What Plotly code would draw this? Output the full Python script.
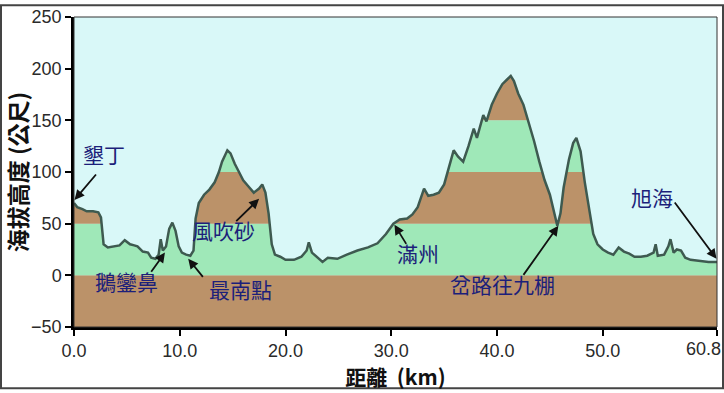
import numpy as np
import plotly.graph_objects as go

# ---- data ----
dist_km = [0.0, 0.3, 0.8, 1.2, 1.8, 2.3, 2.55, 2.8, 3.2, 3.8, 4.3, 4.8, 5.3, 5.7, 6.0, 6.5, 7.0, 7.3, 7.7,
           8.0, 8.2, 8.4, 8.7, 9.0, 9.3, 9.6, 9.9, 10.2, 10.6, 11.0, 11.3, 11.5, 11.8, 12.3, 12.8, 13.3,
           13.7, 14.0, 14.5, 14.8, 15.2, 15.6, 16.0, 16.5, 17.0, 17.5, 17.8, 18.1, 18.4, 18.7, 19.0, 19.5,
           20.0, 20.8, 21.5, 22.0, 22.2, 22.5, 23.0, 23.5, 24.0, 24.9, 25.8, 26.8, 27.8, 28.7, 29.5, 30.2,
           30.8, 31.5, 32.0, 32.5, 33.1, 33.5, 34.0, 34.5, 35.0, 35.5, 35.9, 36.3, 36.8, 37.3, 37.8, 38.1,
           38.7, 39.0, 39.5, 40.0, 40.5, 41.0, 41.3, 41.6, 42.0, 42.5, 43.0, 43.5, 44.0, 44.5, 45.0, 45.4,
           45.7, 46.0, 46.3, 46.8, 47.2, 47.5, 47.9, 48.3, 48.7, 49.1, 49.5, 50.0, 50.5, 51.0, 51.5, 52.0,
           52.5, 53.0, 53.6, 54.2, 54.8, 55.0, 55.2, 55.8, 56.2, 56.4, 56.7, 57.0, 57.4, 57.8, 58.3, 59.0,
           60.0, 60.8]
elev_m = [70, 66, 64, 62, 62, 61, 56, 30, 27, 28, 29, 34, 30, 29, 28, 23, 22, 17, 16,
          20, 35, 24, 28, 45, 51, 43, 28, 22, 20, 19, 24, 55, 70, 78, 83, 90,
          100, 110, 121, 118, 108, 100, 92, 86, 80, 84, 88, 80, 60, 30, 20, 18,
          15, 15, 18, 24, 32, 22, 17, 13, 17, 16, 20, 24, 27, 31, 40, 50,
          54, 55, 59, 66, 84, 77, 78, 80, 88, 105, 121, 115, 110, 125, 142, 133,
          155, 149, 165, 176, 185, 190, 193, 188, 176, 165, 148, 130, 110, 92, 78, 60,
          48, 60, 85, 112, 128, 133, 120, 90, 65, 40, 30, 25, 22, 20, 27, 23,
          21, 18, 18, 19, 22, 30, 19, 20, 28, 35, 22, 25, 24, 17, 15, 14,
          13, 13]

x_ticks = [0, 10, 20, 30, 40, 50, 60.8]
x_tick_labels = ["0.0", "10.0", "20.0", "30.0", "40.0", "50.0", "60.8"]
y_ticks = [-50, 0, 50, 100, 150, 200, 250]

band_edges = [-50, 0, 50, 100, 150, 200, 250]
BROWN = "#bb9269"
GREEN = "#9fe8b8"
band_colors = [BROWN, GREEN, BROWN, GREEN, BROWN, GREEN]

labels = [
    # text, text_x, text_y, tail_x, tail_y, head_x, head_y
    ("墾丁", 2.8, 117, 2.2, 99, 0.05, 73),
    ("鵝鑾鼻", 5.0, -5, 7.2, 2, 8.6, 22),
    ("最南點", 15.7, -13, 12.3, -3, 10.8, 16),
    ("風吹砂", 14.1, 44, 15.2, 51, 17.5, 74),
    ("滿州", 32.5, 22, 31.5, 29, 30.3, 49),
    ("岔路往九棚", 40.5, -8, 42.4, -1, 45.8, 48),
    ("旭海", 54.7, 76, 56.7, 72, 60.75, 16),
]

# ---- insert exact crossing points at band edges so fills match the line ----
xs, ys = [dist_km[0]], [elev_m[0]]
for i in range(1, len(dist_km)):
    x0, y0, x1, y1 = dist_km[i - 1], elev_m[i - 1], dist_km[i], elev_m[i]
    crossings = []
    for lv in band_edges:
        if (y0 - lv) * (y1 - lv) < 0:
            t = (lv - y0) / (y1 - y0)
            crossings.append((x0 + t * (x1 - x0), lv))
    crossings.sort(reverse=(x1 < x0))
    for cx, cy in crossings:
        xs.append(cx)
        ys.append(cy)
    xs.append(x1)
    ys.append(y1)
xs = np.array(xs)
ys = np.array(ys, dtype=float)

fig = go.Figure()
for k in range(len(band_edges) - 1):
    lo, hi = band_edges[k], band_edges[k + 1]
    fig.add_trace(go.Scatter(x=xs, y=np.full_like(ys, lo), mode="lines",
                             line=dict(width=0), hoverinfo="skip", showlegend=False))
    fig.add_trace(go.Scatter(x=xs, y=np.clip(ys, lo, hi), mode="lines", fill="tonexty",
                             fillcolor=band_colors[k], line=dict(width=0),
                             hoverinfo="skip", showlegend=False))

fig.add_trace(go.Scatter(x=dist_km, y=elev_m, mode="lines",
                         line=dict(color="#3e5a50", width=2.5), showlegend=False))

LABEL_FONT = dict(family="Noto Sans CJK TC", size=21, color="#1c1f7a")
for text, tx, ty, ax_, ay_, hx, hy in labels:
    fig.add_annotation(x=tx, y=ty, text=text, showarrow=False, font=LABEL_FONT)
    fig.add_annotation(x=hx, y=hy, ax=ax_, ay=ay_, axref="x", ayref="y", text="",
                       showarrow=True, arrowhead=2, arrowsize=1.1, arrowwidth=1.8,
                       arrowcolor="#111111")

TICK_FONT = dict(family="Liberation Sans Narrow, Liberation Sans", size=18, color="#2a2a2a")
fig.update_xaxes(range=[0, 60.8], tickvals=x_ticks,
                 ticktext=x_tick_labels[:-1] + [""],
                 ticks="outside", ticklen=6, tickwidth=2, tickcolor="black",
                 showline=True, linewidth=2.5, linecolor="black", showgrid=False,
                 zeroline=False, tickfont=TICK_FONT,
                 title=dict(text="<b>距離  (km)</b>", standoff=3,
                            font=dict(family="Noto Sans CJK TC", size=21, color="#111")))
fig.update_yaxes(range=[-50, 250], tickvals=y_ticks, ticks="outside", ticklen=6,
                 tickwidth=2, tickcolor="black", showline=True, linewidth=2.5,
                 linecolor="black", showgrid=False, zeroline=False, tickfont=TICK_FONT,
                 title=dict(text="<b>海拔高度 (公尺)</b>", standoff=4,
                            font=dict(family="Noto Sans CJK TC", size=23, color="#111")))

# last x tick label, right-aligned like the reference
fig.add_annotation(x=x_ticks[-1], y=0, xref="x", yref="paper", yshift=-10,
                   text=x_tick_labels[-1], showarrow=False, xanchor="right",
                   yanchor="top", xshift=6, font=TICK_FONT)

fig.add_shape(type="rect", xref="paper", yref="paper", x0=0, y0=0, x1=1, y1=1,
              line=dict(color="#333", width=1), layer="above")

W, H = 724, 393
L, R, T, B = 74, 7, 13, 66
pw, ph = W - L - R, H - T - B
fig.update_layout(width=W, height=H, margin=dict(l=L, r=R, t=T, b=B),
                  plot_bgcolor="#d9f8f8", paper_bgcolor="white")
fig.add_shape(type="rect", xref="paper", yref="paper",
              x0=-(L - 1) / pw, y0=-(B - 4) / ph, x1=1 + (R - 1) / pw, y1=1 + (T - 1) / ph,
              line=dict(color="#444", width=2))

fig.write_html("out.html", config={"displayModeBar": False},
               post_script="document.body.style.margin='0px';")
